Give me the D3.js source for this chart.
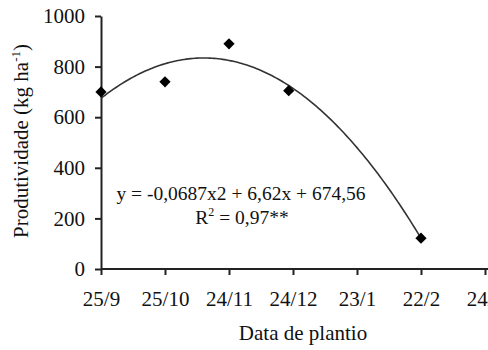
<!DOCTYPE html>
<html><head><meta charset="utf-8">
<script src="https://cdn.jsdelivr.net/npm/d3@7"></script>
<style>
html,body{margin:0;padding:0;background:#fff;}
</style></head>
<body><svg id="c" width="488" height="350"></svg>
<script>
const plantingDays = [0, 30, 60, 88, 150];
const yieldValues = [700, 740, 890, 705, 122];
const tickDays = [0, 30, 60, 90, 120, 150, 180];
const tickLabels = ["25/9", "25/10", "24/11", "24/12", "23/1", "22/2", "24/3"];
const yTicks = [0, 200, 400, 600, 800, 1000];
const trendCoef = [-0.0687, 6.62, 674.56]; // y = a x^2 + b x + c
const trendRange = [0, 150];

const SERIF = "Times New Roman, Times, Liberation Serif, DejaVu Serif, serif";
const svg = d3.select("#c");
const x = d3.scaleLinear().domain([0, 180]).range([101, 485]);
const y = d3.scaleLinear().domain([0, 1000]).range([269, 16]);

const xAxis = d3.axisBottom(x).tickValues(tickDays)
  .tickFormat((d, i) => tickLabels[i]).tickSizeInner(6).tickSizeOuter(0).tickPadding(16);
const gx = svg.append("g").attr("transform", "translate(0,269)").call(xAxis)
  .attr("font-family", SERIF).attr("font-size", 21);
gx.select(".domain").attr("d", "M101,0H492").attr("stroke", "#222").attr("stroke-width", 2);
gx.selectAll(".tick line").attr("stroke", "#222").attr("stroke-width", 2);
gx.selectAll(".tick text").attr("fill", "#111");

const yAxis = d3.axisLeft(y).tickValues(yTicks).tickFormat(d3.format("d"))
  .tickSizeInner(6).tickSizeOuter(0).tickPadding(10);
const gy = svg.append("g").attr("transform", "translate(101,0)").call(yAxis)
  .attr("font-family", SERIF).attr("font-size", 21);
gy.select(".domain").attr("stroke", "#222").attr("stroke-width", 2);
gy.selectAll(".tick line").attr("stroke", "#222").attr("stroke-width", 2);
gy.selectAll(".tick text").attr("fill", "#111");

const f = t => trendCoef[0] * t * t + trendCoef[1] * t + trendCoef[2];
const tPts = d3.range(trendRange[0], trendRange[1] + 0.5, 1);
svg.append("path")
  .attr("d", d3.line().x(t => x(t)).y(t => y(f(t)))(tPts))
  .attr("fill", "none").attr("stroke", "#333").attr("stroke-width", 1.6);

svg.selectAll(".pt").data(plantingDays).enter().append("path")
  .attr("class", "pt")
  .attr("transform", (d, i) => `translate(${x(d)},${y(yieldValues[i])})`)
  .attr("d", d3.symbol().type(d3.symbolDiamond2).size(80))
  .attr("fill", "#000");

const txt = svg.append("g").attr("font-family", SERIF).attr("fill", "#111");
txt.append("text").attr("x", 241).attr("y", 200).attr("text-anchor", "middle")
  .attr("font-size", 19.5).text("y = -0,0687x2 + 6,62x + 674,56");
const r2 = txt.append("text").attr("x", 242).attr("y", 224).attr("text-anchor", "middle")
  .attr("font-size", 19.5);
r2.append("tspan").text("R");
r2.append("tspan").attr("dy", -8).attr("font-size", 12).text("2");
r2.append("tspan").attr("dy", 8).text(" = 0,97**");

txt.append("text").attr("x", 303).attr("y", 340).attr("text-anchor", "middle")
  .attr("font-size", 21).text("Data de plantio");
const yt = txt.append("text").attr("transform", "translate(28,141) rotate(-90)")
  .attr("text-anchor", "middle").attr("font-size", 21);
yt.append("tspan").text("Produtividade (kg ha");
yt.append("tspan").attr("dy", -8).attr("font-size", 13).text("-1");
yt.append("tspan").attr("dy", 8).text(")");
</script></body></html>
